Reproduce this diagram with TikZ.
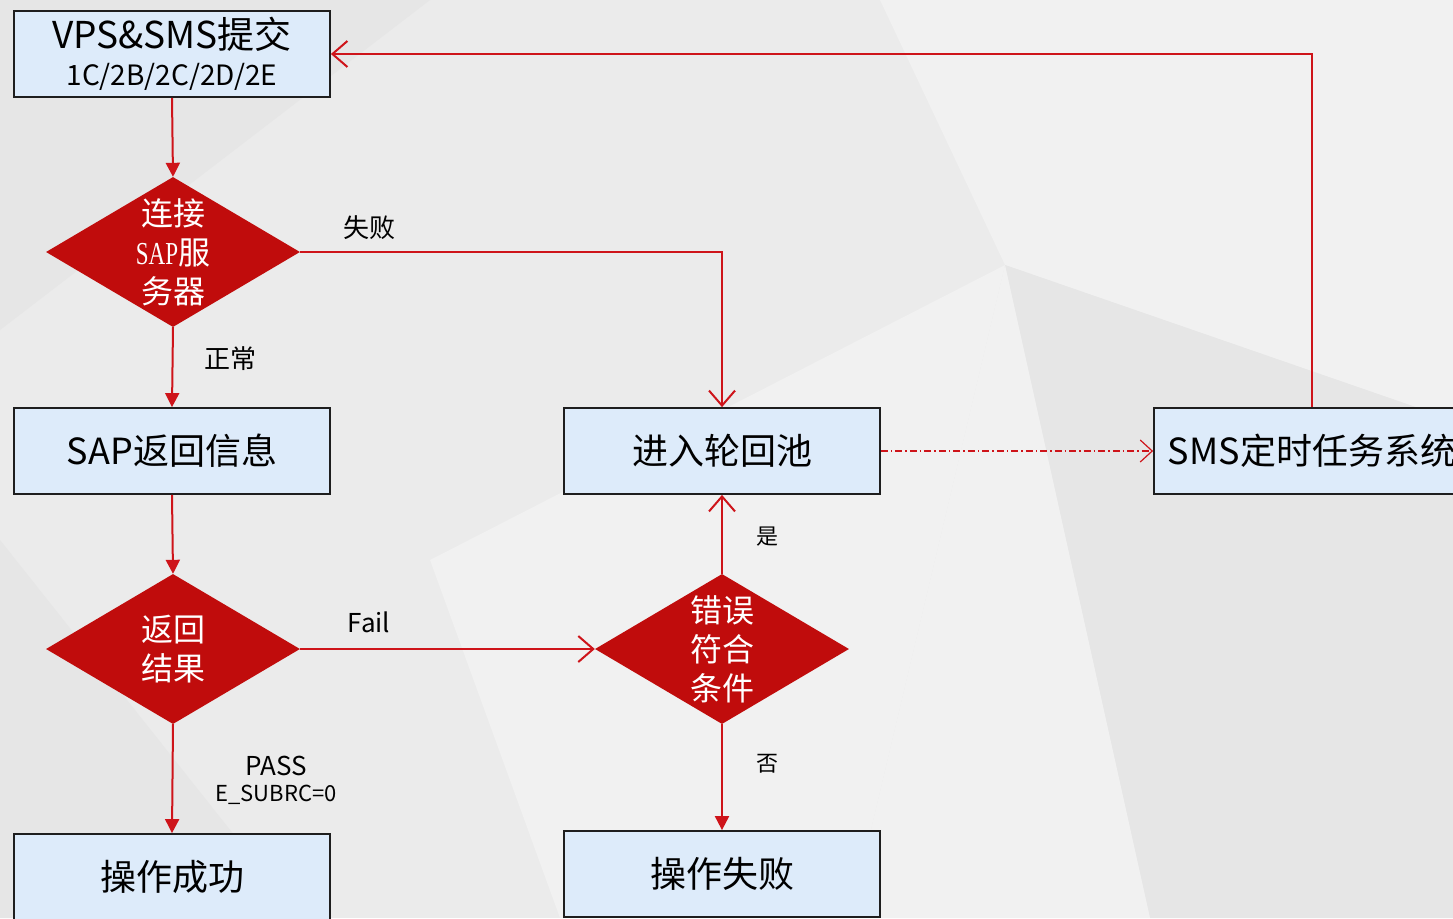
\documentclass[tikz,border=0pt]{standalone}
\usepackage{fontspec}
\setmainfont{Noto Sans CJK SC}
\newfontfamily\sapfont[FakeStretch=0.72]{Liberation Serif}
\usetikzlibrary{shapes.geometric,arrows.meta}
\definecolor{bgbase}{RGB}{235,235,235}
\definecolor{bglight}{RGB}{241,241,241}
\definecolor{bgdark}{RGB}{230,230,230}
\definecolor{redline}{RGB}{206,20,26}
\definecolor{redfill}{RGB}{192,12,12}
\definecolor{boxfill}{RGB}{221,235,250}
\definecolor{boxline}{RGB}{30,30,30}
\tikzset{
  procbox/.style={draw=boxline, line width=1.8pt, fill=boxfill, minimum width=316pt, minimum height=86pt, inner sep=0pt, text=black, font=\fontsize{36}{40}\selectfont},
  decision/.style={diamond, fill=redfill, draw=none, minimum width=254pt, minimum height=150pt, inner sep=0pt},
  dectext/.style={text=white, align=center, font=\fontsize{32}{39}\selectfont},
  filledarrow/.style={draw=redline, line width=2pt, -{Triangle[length=14pt,width=14pt]}},
  openarrow/.style={draw=redline, line width=2pt, -{Straight Barb[length=15pt,width=26pt,line width=2pt]}},
  dasharrow/.style={draw=redline, line width=1.2pt, dash pattern=on 7pt off 3pt on 1.5pt off 3pt, -{Straight Barb[length=12pt,width=22pt,line width=1.2pt,sep=0pt]}},
  lbl/.style={text=black, font=\fontsize{26}{30}\selectfont, inner sep=0pt},
  smalllbl/.style={text=black, font=\fontsize{22}{26}\selectfont, inner sep=0pt}
}
\begin{document}
\begin{tikzpicture}[x=1pt,y=-1pt]
\useasboundingbox (0,0) rectangle (1453,918);
% background
\fill[bgbase] (0,0) rectangle (1453,918);
\fill[bglight] (1005,265) -- (880,0) -- (1453,0) -- (1453,420) -- cycle;
\fill[bgdark] (1005,265) -- (1453,420) -- (1453,918) -- (1150,918) -- cycle;
\fill[bglight] (1005,265) -- (1150,918) -- (850,918) -- cycle;
\fill[bgdark] (0,0) -- (430,0) -- (0,330) -- cycle;
\fill[bglight] (1005,265) -- (430,560) -- (560,918) -- (850,918) -- cycle;
\fill[bgdark] (0,540) -- (300,918) -- (0,918) -- cycle;
% nodes
\node[procbox, align=center] (b1) at (172,54) {{\fontsize{37}{38}\selectfont VPS\&SMS提交}\\[-3pt]{\fontsize{28}{30}\selectfont 1C/2B/2C/2D/2E}};
\node[decision] (d1) at (173,252) {};
\node[dectext] (d1t) at (d1.center) {连接\\{\sapfont SAP}服\\务器};
\node[procbox] (sap) at (172,451) {SAP返回信息};
\node[decision] (d2) at (173,649) {};
\node[dectext] (d2t) at (d2.center) {返回\\结果};
\node[procbox] (ok) at (172,877) {操作成功};
\node[procbox] (pool) at (722,451) {进入轮回池};
\node[decision] (d3) at (722,649) {};
\node[dectext] (d3t) at (d3.center) {错误\\符合\\条件};
\node[procbox] (fail) at (722,874) {操作失败};
\node[procbox] (sms) at (1312,451) {SMS定时任务系统};
% labels
\node[lbl] (l1) at (369,228) {失败};
\node[lbl] (l2) at (230,359) {正常};
\node[lbl] (l3) at (369,622) {Fail};
\node[lbl] (l4) at (276,766) {PASS};
\node[smalllbl] (l5) at (276,795) {E\_SUBRC=0};
\node[smalllbl] (l6) at (767,537) {是};
\node[smalllbl] (l7) at (767,764) {否};
% connectors
\draw[filledarrow] (b1.south) -- (d1.north);
\draw[filledarrow] (d1.south) -- (sap.north);
\draw[openarrow] (d1.east) -| (pool.north);
\draw[filledarrow] (sap.south) -- (d2.north);
\draw[openarrow] (d2.east) -- (d3.west);
\draw[filledarrow] (d2.south) -- (ok.north);
\draw[openarrow] (d3.north) -- (pool.south);
\draw[filledarrow] (d3.south) -- (fail.north);
\draw[dasharrow] (pool.east) -- (sms.west);
\draw[openarrow] (sms.north) |- (b1.east);
\end{tikzpicture}
\end{document}
